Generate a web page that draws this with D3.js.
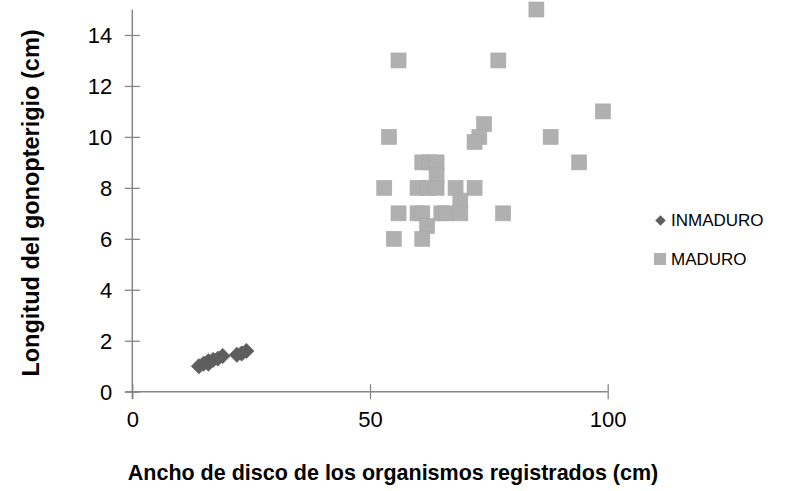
<!DOCTYPE html>
<html><head><meta charset="utf-8">
<script src="https://cdn.jsdelivr.net/npm/d3@7"></script>
<style>body{margin:0;background:#fff}svg{display:block}text{font-family:"Liberation Sans",Arial,sans-serif}</style>
</head><body>
<svg id="c" width="789" height="491"></svg>
<script>
// INMADURO: [ancho de disco, longitud gonopterigio]
const inmaduroX = [14, 15, 16, 16, 17, 18, 19, 22, 23, 24];
const inmaduroY = [1.0, 1.1, 1.1, 1.2, 1.25, 1.3, 1.4, 1.45, 1.5, 1.6];
// MADURO
const maduroX = [85, 56, 77, 99, 54, 74, 73, 72, 88, 94, 61, 62.5, 64, 64, 53, 60, 62, 64, 68, 72, 69, 56, 60, 61, 65, 66, 69, 78, 62, 55, 61];
const maduroY = [15, 13, 13, 11, 10, 10.5, 10, 9.8, 10, 9, 9, 9, 9, 8.5, 8, 8, 8, 8, 8, 8, 7.5, 7, 7, 7, 7, 7, 7, 7, 6.5, 6, 6];
const xTicks = [0, 50, 100];
const yTicks = [0, 2, 4, 6, 8, 10, 12, 14];
const seriesNames = ["INMADURO", "MADURO"];
const xTitle = "Ancho de disco de los organismos registrados (cm)";
const yTitle = "Longitud del gonopterigio (cm)";

const svg = d3.select("#c");
const x = d3.scaleLinear().domain([0, 100]).range([132.3, 607.7]);
const y = d3.scaleLinear().domain([0, 15]).range([391.7, 9.5]);
const axisColor = "#868686";

// axes
const xa = svg.append("g").attr("transform", `translate(0,${y(0)})`)
  .call(d3.axisBottom(x).tickValues(xTicks).tickSize(0).tickPadding(19));
xa.select(".domain").attr("stroke", axisColor).attr("stroke-width", 1.5).attr("d", `M${x(0)-7},0H${x(100)}`);
xa.selectAll(".tick text").attr("font-size", 22).attr("fill", "#000").attr("font-family", "Liberation Sans, Arial, sans-serif").attr("dy", "0.75em");
xa.selectAll(".tick").append("line").attr("y1", -7.5).attr("y2", 7.5).attr("stroke", axisColor).attr("stroke-width", 1.3);

const ya = svg.append("g").attr("transform", `translate(${x(0)},0)`)
  .call(d3.axisLeft(y).tickValues(yTicks).tickSize(0).tickPadding(20));
ya.select(".domain").attr("stroke", axisColor).attr("stroke-width", 1.5).attr("d", `M0,${y(0)+7}V${y(15)}`);
ya.selectAll(".tick text").attr("font-size", 22).attr("fill", "#000").attr("font-family", "Liberation Sans, Arial, sans-serif").attr("dy", "0.35em");
ya.selectAll(".tick").append("line").attr("x1", -7.5).attr("x2", 7.5).attr("stroke", axisColor).attr("stroke-width", 1.3);

// MADURO squares
const sq = 15;
svg.append("g").selectAll("rect").data(maduroX.map((v, i) => [v, maduroY[i]])).join("rect")
  .attr("x", d => x(d[0]) - sq / 2).attr("y", d => y(d[1]) - sq / 2)
  .attr("width", sq).attr("height", sq).attr("fill", "#b0b0b0").attr("stroke", "#a8a8a8").attr("stroke-width", 0.6);

// INMADURO diamonds
const dm = d3.symbol().type(d3.symbolDiamond2).size(150);
svg.append("g").selectAll("path").data(inmaduroX.map((v, i) => [v, inmaduroY[i]])).join("path")
  .attr("d", dm).attr("transform", d => `translate(${x(d[0])},${y(d[1])})`)
  .attr("fill", "#5e5e5e").attr("stroke", "#5e5e5e").attr("stroke-width", 0.6);

// legend
const lg = svg.append("g");
lg.append("path").attr("d", d3.symbol().type(d3.symbolDiamond2).size(70)).attr("transform", "translate(660.5,220.5)").attr("fill", "#5e5e5e");
lg.append("text").attr("x", 671).attr("y", 220.5).attr("dy", "0.35em").attr("font-size", 17).text(seriesNames[0]);
lg.append("rect").attr("x", 654).attr("y", 253).attr("width", 12).attr("height", 12).attr("fill", "#b0b0b0");
lg.append("text").attr("x", 671).attr("y", 259).attr("dy", "0.35em").attr("font-size", 17).text(seriesNames[1]);

// titles
svg.append("text").attr("x", 393).attr("y", 480).attr("text-anchor", "middle").attr("font-size", 21.5).attr("font-weight", "bold").text(xTitle);
svg.append("text").attr("transform", "translate(39,203) rotate(-90)").attr("text-anchor", "middle").attr("font-size", 23.5).attr("font-weight", "bold").text(yTitle);
</script>
</body></html>
